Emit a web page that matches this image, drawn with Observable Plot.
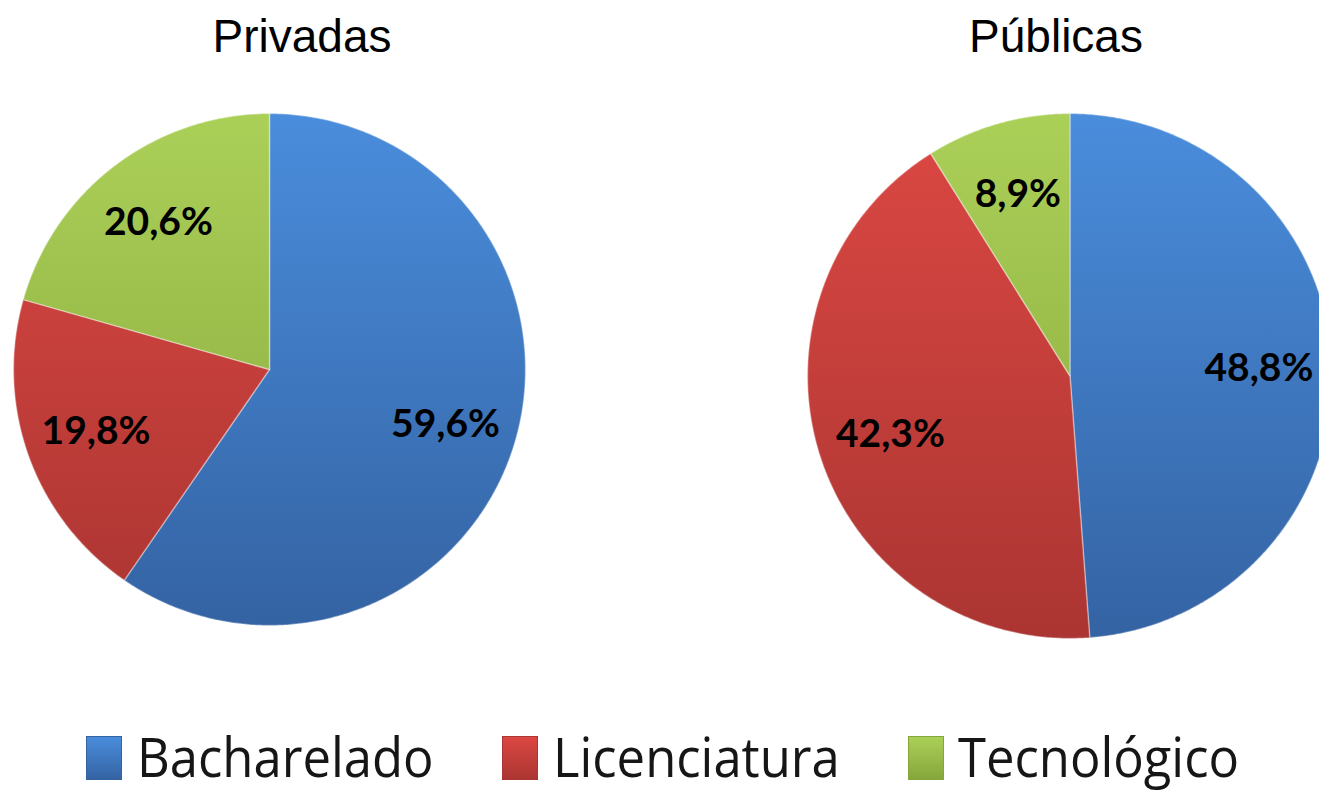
<!DOCTYPE html>
<html>
<head>
<meta charset="utf-8">
<script src="https://cdn.jsdelivr.net/npm/d3@7"></script>
<script src="https://cdn.jsdelivr.net/npm/@observablehq/plot@0.6"></script>
<style>
  html, body { margin: 0; padding: 0; background: #fff; }
  #wrap { position: relative; width: 1319px; height: 793px; overflow: hidden; background: #fff; }
  .title { position: absolute; font-family: "Liberation Sans", Arial, sans-serif; font-size: 46px; line-height: 46px; color: #000; white-space: nowrap; transform: translateX(-50%); }
  .pie { position: absolute; }
  .pie svg { max-width: none !important; display: block; }
  .leg-sw { position: absolute; width: 36px; height: 44px; box-sizing: border-box; }
  .leg-tx { position: absolute; font-family: "Open Sans", sans-serif; font-size: 54px; line-height: 54px; color: #161616; white-space: nowrap; transform-origin: 0 0; transform: scaleX(0.94); }
</style>
</head>
<body>
<div id="wrap"></div>
<script>
// ---- data ----
const categories = ["Bacharelado", "Licenciatura", "Tecnológico"];
const privadas = [59.6, 19.8, 20.6];
const publicas = [48.8, 42.3, 8.9];
const panelTitles = ["Privadas", "Públicas"];
const colorTop = ["#4a8ddc", "#dc4843", "#abd058"];
const colorBottom = ["#3463a3", "#ab3532", "#86a63b"];

const wrap = document.getElementById("wrap");
const fmt = v => d3.format(".1f")(v).replace(".", ",") + "%";

function drawPie(values, id, cx, cy, r, labelR) {
  const m = 4;
  const size = 2 * r + 2 * m;
  const arcs = d3.pie().sort(null).value(d => d)(values);
  const step = Math.PI / 360;
  const slices = arcs.map((a, i) => {
    const pts = [{x: 0, y: 0}];
    for (let t = a.startAngle; t < a.endAngle; t += step) pts.push({x: Math.sin(t), y: Math.cos(t)});
    pts.push({x: Math.sin(a.endAngle), y: Math.cos(a.endAngle)});
    pts.push({x: 0, y: 0});
    return pts;
  });
  const labels = arcs.map((a, i) => {
    const mid = (a.startAngle + a.endAngle) / 2;
    return {x: labelR * Math.sin(mid), y: labelR * Math.cos(mid), text: fmt(values[i])};
  });
  const marks = slices.map((pts, i) =>
    Plot.line(pts, {x: "x", y: "y", fill: `url(#${id}-g${i})`, stroke: "#ffffff", strokeOpacity: 0.35, strokeWidth: 1.5, strokeLinejoin: "round"})
  );
  marks.push(Plot.text(labels, {x: "x", y: "y", text: "text", fontSize: 39, fontWeight: "bold", fontFamily: "Lato, sans-serif", fill: "#000"}));
  const svg = Plot.plot({
    width: size, height: size,
    margin: m,
    x: {domain: [-1, 1], axis: null},
    y: {domain: [-1, 1], axis: null},
    style: {background: "transparent", overflow: "visible", maxWidth: "none"},
    marks
  });
  const ns = "http://www.w3.org/2000/svg";
  const defs = document.createElementNS(ns, "defs");
  categories.forEach((c, i) => {
    const g = document.createElementNS(ns, "linearGradient");
    g.setAttribute("id", `${id}-g${i}`);
    g.setAttribute("gradientUnits", "userSpaceOnUse");
    g.setAttribute("x1", 0); g.setAttribute("x2", 0);
    g.setAttribute("y1", m); g.setAttribute("y2", size - m);
    [[0, colorTop[i]], [1, colorBottom[i]]].forEach(([o, col]) => {
      const s = document.createElementNS(ns, "stop");
      s.setAttribute("offset", o); s.setAttribute("stop-color", col);
      g.appendChild(s);
    });
    defs.appendChild(g);
  });
  svg.insertBefore(defs, svg.firstChild);
  const holder = document.createElement("div");
  holder.className = "pie";
  holder.style.left = (cx - size / 2) + "px";
  holder.style.top = (cy - size / 2) + "px";
  holder.style.width = size + "px";
  holder.style.height = size + "px";
  holder.appendChild(svg);
  wrap.appendChild(holder);
}

drawPie(privadas, "priv", 269, 368.5, 256, 0.72);
drawPie(publicas, "pub", 1069.5, 375, 262.5, 0.72);

// titles
[[panelTitles[0], 302], [panelTitles[1], 1056]].forEach(([t, x]) => {
  const d = document.createElement("div");
  d.className = "title";
  d.textContent = t;
  d.style.left = x + "px";
  d.style.top = "13px";
  wrap.appendChild(d);
});

// legend
const swLeft = [86, 502, 908];
const txLeft = [137, 553, 958];
categories.forEach((c, i) => {
  const sw = document.createElement("div");
  sw.className = "leg-sw";
  sw.style.left = swLeft[i] + "px";
  sw.style.top = "736px";
  sw.style.background = `linear-gradient(${colorTop[i]}, ${colorBottom[i]})`;
  sw.style.border = `1px solid ${colorBottom[i]}`;
  wrap.appendChild(sw);
  const tx = document.createElement("div");
  tx.className = "leg-tx";
  tx.textContent = c;
  tx.style.left = txLeft[i] + "px";
  tx.style.top = "729px";
  wrap.appendChild(tx);
});
</script>
</body>
</html>
